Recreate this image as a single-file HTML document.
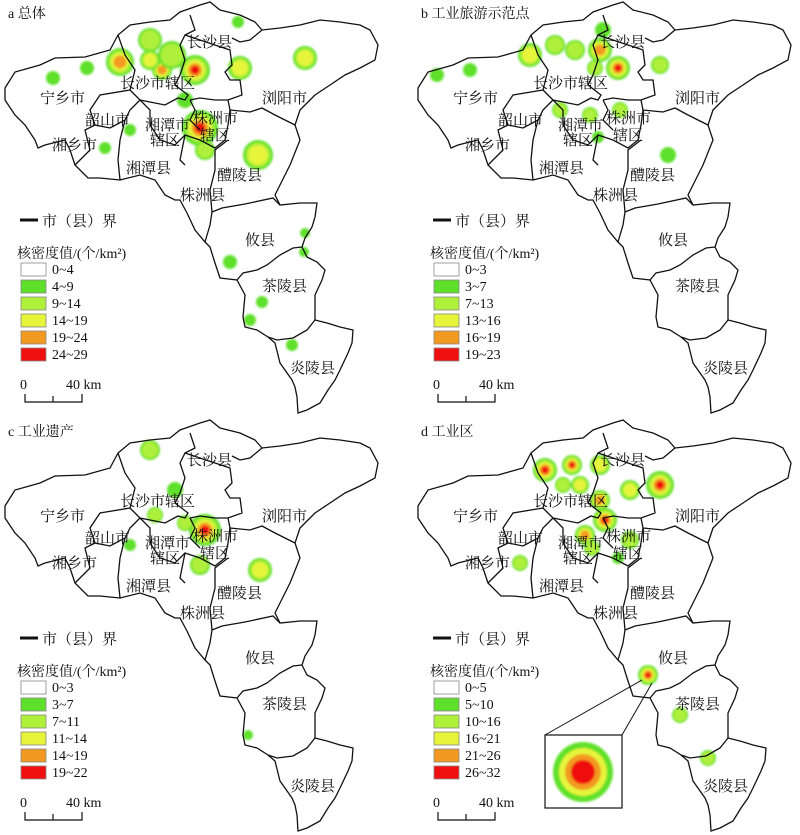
<!DOCTYPE html>
<html><head><meta charset="utf-8">
<style>
body{margin:0;background:#fff}
svg{display:block}
text{font-family:"Liberation Serif","Noto Serif CJK SC","Noto Sans CJK SC",serif;fill:#111;font-size:14px}
.n{font-size:15px}
</style></head>
<body>
<svg id="s" width="800" height="835" viewBox="0 0 800 835" xmlns="http://www.w3.org/2000/svg">
<defs>
<filter id="bl"><feGaussianBlur stdDeviation="1"/></filter>
<g id="map" fill="none" stroke="#111" stroke-width="1.3">
<path d="M5,88 L15,72 40,65 55,58 85,57 110,50 118,35 130,25 150,22 170,20 180,12 200,5 210,2 220,10 240,15 255,22 262,30 280,28 300,25 320,20 340,22 360,25 370,30 378,45 375,60 360,68 345,75 330,85 315,95 300,110 295,125 300,140 290,165 280,185 275,195 280,205 300,203 317,203 315,217 312,227 305,238 302,247 307,257 317,262 325,270 322,280 315,295 315,320 327,323 340,327 353,330 352,343 348,353 340,370 335,380 328,390 320,403 307,410 298,413 297,397 295,387 292,380 280,363 275,343 268,337 257,330 245,327 243,317 245,295 237,280 220,278 215,263 210,247 205,242 195,230 187,213 180,200 175,200 165,195 155,180 140,175 120,180 100,178 88,178 75,165 70,150 65,140 45,145 38,148 35,140 25,125 15,115 5,100 Z"/>
<path d="M118,35 L125,55 135,70 130,90 140,100 165,105 178,98 185,100 188,95 175,85 180,75 185,60 180,45 185,35 195,30 190,15"/>
<path d="M185,35 L200,40 215,45 230,50 232,65 225,72 230,80 240,80 242,95 228,100 215,100 200,98 190,100"/>
<path d="M232,38 L240,42 250,40 262,30"/>
<path d="M130,90 L100,95 90,110 95,125 110,128 125,120 130,110 140,100"/>
<path d="M95,125 L85,130 90,150 75,165"/>
<path d="M125,120 L120,140 118,160 120,180"/>
<path d="M140,100 L150,110 150,125 160,140 175,145 185,135 200,140 215,148 225,140 228,125 230,110 228,100"/>
<path d="M185,135 L180,160 185,165"/>
<path d="M230,110 L250,112 262,108 275,115 295,125"/>
<path d="M228,140 L215,150 215,170 210,190 212,212"/>
<path d="M205,242 L210,225 212,212 222,208 245,204 273,198 280,205"/>
<path d="M237,280 L243,273 257,270 267,265 280,255 293,248 302,247"/>
<path d="M268,337 L277,340 293,338 307,330 315,320"/>
<path d="M190,100 L195,110 190,120 200,130"/>
</g>
<g id="leg" stroke="#888" stroke-width="0.8">
<line x1="20" y1="220" x2="38" y2="220" stroke="#111" stroke-width="3"/>
<rect x="21" y="263" width="25" height="13" fill="#fff"/>
<rect x="21" y="280" width="25" height="13" fill="#5ee02a"/>
<rect x="21" y="297" width="25" height="13" fill="#aef03a"/>
<rect x="21" y="314" width="25" height="13" fill="#e6f53a"/>
<rect x="21" y="331" width="25" height="13" fill="#f29a20"/>
<rect x="21" y="348" width="25" height="13" fill="#f01010"/>
<path d="M25,394 V402 H82 V394 M53,396 V402" fill="none" stroke="#111" stroke-width="1.2"/>
</g>
</defs>
<text x="8" y="18">a 总体</text>
<text x="421" y="18">b 工业旅游示范点</text>
<text x="8" y="436">c 工业遗产</text>
<text x="421" y="436">d 工业区</text>
<g id="spots"></g>
<use href="#map" x="0" y="0"/><use href="#map" x="413" y="0"/><use href="#map" x="0" y="418"/><use href="#map" x="413" y="418"/>
<use href="#leg" x="0" y="0"/><use href="#leg" x="413" y="0"/><use href="#leg" x="0" y="418"/><use href="#leg" x="413" y="418"/>
<g id="inset">
<rect x="545" y="735" width="77" height="73" fill="#fff" stroke="#111" stroke-width="1.2"/>
<line x1="545" y1="735" x2="642" y2="680" stroke="#111"/>
<line x1="622" y1="735" x2="652" y2="683" stroke="#111"/>
<g filter="url(#bl)"><circle cx="583" cy="772" r="30" fill="#5ee02a"/><circle cx="583" cy="772" r="24" fill="#e6f53a"/><circle cx="583" cy="772" r="18" fill="#f29a20"/><circle cx="583" cy="772" r="12" fill="#f01010"/></g>
</g>
<g id="lab">
<g transform="translate(0,0)">
<g class="n"><text class="n" x="187" y="47">长沙县</text><text class="n" x="120" y="88">长沙市辖区</text><text class="n" x="40" y="103">宁乡市</text><text class="n" x="262" y="103">浏阳市</text><text class="n" x="85" y="125">韶山市</text><text class="n" x="145" y="130">湘潭市</text><text class="n" x="150" y="145">辖区</text><text class="n" x="193" y="123">株洲市</text><text class="n" x="200" y="140">辖区</text><text class="n" x="52" y="150">湘乡市</text><text class="n" x="126" y="173">湘潭县</text><text class="n" x="217" y="180">醴陵县</text><text class="n" x="180" y="200">株洲县</text><text class="n" x="245" y="245">攸县</text><text class="n" x="262" y="291">茶陵县</text><text class="n" x="290" y="373">炎陵县</text></g>
<text class="n" x="42" y="226">市（县）界</text><text x="17" y="258">核密度值/(个/km²)</text>
<text x="52" y="274">0~4</text><text x="52" y="291">4~9</text><text x="52" y="308">9~14</text><text x="52" y="325">14~19</text><text x="52" y="342">19~24</text><text x="52" y="359">24~29</text>
<text x="20" y="389">0</text><text x="66" y="389">40 km</text>
</g>
<g transform="translate(413,0)">
<text class="n" x="187" y="47">长沙县</text><text class="n" x="120" y="88">长沙市辖区</text><text class="n" x="40" y="103">宁乡市</text><text class="n" x="262" y="103">浏阳市</text><text class="n" x="85" y="125">韶山市</text><text class="n" x="145" y="130">湘潭市</text><text class="n" x="150" y="145">辖区</text><text class="n" x="193" y="123">株洲市</text><text class="n" x="200" y="140">辖区</text><text class="n" x="52" y="150">湘乡市</text><text class="n" x="126" y="173">湘潭县</text><text class="n" x="217" y="180">醴陵县</text><text class="n" x="180" y="200">株洲县</text><text class="n" x="245" y="245">攸县</text><text class="n" x="262" y="291">茶陵县</text><text class="n" x="290" y="373">炎陵县</text>
<text class="n" x="42" y="226">市（县）界</text><text x="17" y="258">核密度值/(个/km²)</text>
<text x="52" y="274">0~3</text><text x="52" y="291">3~7</text><text x="52" y="308">7~13</text><text x="52" y="325">13~16</text><text x="52" y="342">16~19</text><text x="52" y="359">19~23</text>
<text x="20" y="389">0</text><text x="66" y="389">40 km</text>
</g>
<g transform="translate(0,418)">
<text class="n" x="187" y="47">长沙县</text><text class="n" x="120" y="88">长沙市辖区</text><text class="n" x="40" y="103">宁乡市</text><text class="n" x="262" y="103">浏阳市</text><text class="n" x="85" y="125">韶山市</text><text class="n" x="145" y="130">湘潭市</text><text class="n" x="150" y="145">辖区</text><text class="n" x="193" y="123">株洲市</text><text class="n" x="200" y="140">辖区</text><text class="n" x="52" y="150">湘乡市</text><text class="n" x="126" y="173">湘潭县</text><text class="n" x="217" y="180">醴陵县</text><text class="n" x="180" y="200">株洲县</text><text class="n" x="245" y="245">攸县</text><text class="n" x="262" y="291">茶陵县</text><text class="n" x="290" y="373">炎陵县</text>
<text class="n" x="42" y="226">市（县）界</text><text x="17" y="258">核密度值/(个/km²)</text>
<text x="52" y="274">0~3</text><text x="52" y="291">3~7</text><text x="52" y="308">7~11</text><text x="52" y="325">11~14</text><text x="52" y="342">14~19</text><text x="52" y="359">19~22</text>
<text x="20" y="389">0</text><text x="66" y="389">40 km</text>
</g>
<g transform="translate(413,418)">
<text class="n" x="187" y="47">长沙县</text><text class="n" x="120" y="88">长沙市辖区</text><text class="n" x="40" y="103">宁乡市</text><text class="n" x="262" y="103">浏阳市</text><text class="n" x="85" y="125">韶山市</text><text class="n" x="145" y="130">湘潭市</text><text class="n" x="150" y="145">辖区</text><text class="n" x="193" y="123">株洲市</text><text class="n" x="200" y="140">辖区</text><text class="n" x="52" y="150">湘乡市</text><text class="n" x="126" y="173">湘潭县</text><text class="n" x="217" y="180">醴陵县</text><text class="n" x="180" y="200">株洲县</text><text class="n" x="245" y="245">攸县</text><text class="n" x="262" y="291">茶陵县</text><text class="n" x="290" y="373">炎陵县</text>
<text class="n" x="42" y="226">市（县）界</text><text x="17" y="258">核密度值/(个/km²)</text>
<text x="52" y="274">0~5</text><text x="52" y="291">5~10</text><text x="52" y="308">10~16</text><text x="52" y="325">16~21</text><text x="52" y="342">21~26</text><text x="52" y="359">26~32</text>
<text x="20" y="389">0</text><text x="66" y="389">40 km</text>
</g>
</g>
</svg>
<script>
(function(){
var NS="http://www.w3.org/2000/svg";
var off=[[0,0],[413,0],[0,418],[413,418]];
var cols=["#5ee02a","#aef03a","#e6f53a","#f29a20","#f01010"];
var spots=[
[[120,62,14,4],[87,68,7,1],[53,78,7,1],[150,40,12,2],[238,22,6,1],[305,58,12,3],[240,68,12,3],[195,70,15,5],[162,70,10,4],[172,55,14,2],[150,60,10,3],[185,100,8,1],[130,130,6,1],[105,148,6,1],[200,128,18,5],[205,150,10,2],[258,155,15,3],[230,262,7,1],[305,233,5,1],[304,252,5,1],[262,302,6,1],[250,320,6,1],[292,345,6,1]],
[[24,75,7,1],[57,70,7,1],[117,55,12,3],[142,45,10,2],[162,50,10,2],[187,50,12,4],[205,68,12,5],[182,68,8,2],[247,65,9,2],[147,110,8,2],[177,115,8,2],[207,110,8,2],[255,155,8,1],[185,137,6,1],[190,30,8,1]],
[[150,32,10,2],[175,72,8,1],[155,97,8,2],[130,127,6,1],[205,112,16,5],[200,147,10,2],[260,152,12,3],[248,317,5,1],[185,105,8,2]],
[[132,52,12,5],[159,47,10,5],[187,47,10,3],[167,67,9,3],[187,82,10,4],[217,72,10,3],[247,67,14,5],[192,102,12,5],[172,117,10,4],[217,122,9,2],[107,145,8,2],[179,130,8,2],[235,257,10,5],[267,297,8,2],[295,340,8,2],[150,67,8,2],[205,140,6,1]]
];
var sg=document.getElementById("spots");
for(var i=0;i<4;i++){
 var g=document.createElementNS(NS,"g");g.setAttribute("filter","url(#bl)");sg.appendChild(g);
 for(var j=0;j<spots[i].length;j++){var s=spots[i][j];
  for(var k=0;k<s[3];k++){var c=document.createElementNS(NS,"circle");
   c.setAttribute("cx",s[0]+off[i][0]);c.setAttribute("cy",s[1]+off[i][1]);
   c.setAttribute("r",s[2]*(1-k*0.18));c.setAttribute("fill",cols[k]);g.appendChild(c);}
 }
}
})();
</script>
</body></html>
